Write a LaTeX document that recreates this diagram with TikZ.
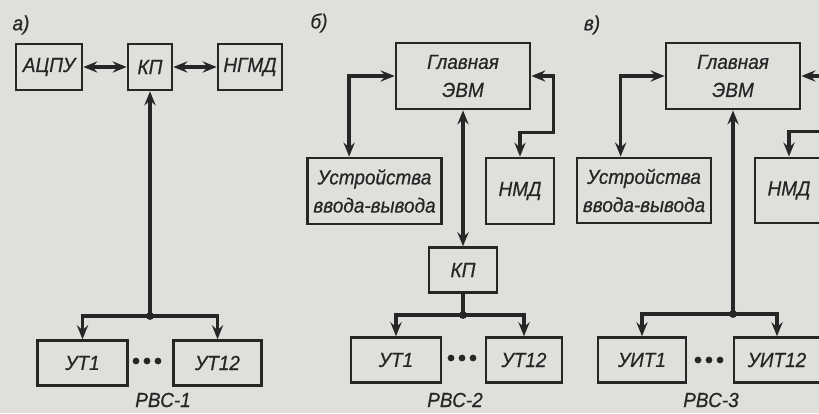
\documentclass[tikz,border=0pt]{standalone}
\usepackage{fontspec}
\setmainfont{Liberation Sans}[FakeStretch=0.93,FakeBold=0.6]
\usetikzlibrary{arrows.meta,positioning,calc}
\definecolor{paper}{RGB}{224,223,220}
\definecolor{ink}{RGB}{38,38,38}
\tikzset{
  blk/.style={draw=ink,line width=1.9pt,fill=paper,inner sep=1pt,align=center,
    text=ink,font=\fontsize{14.5}{20}\selectfont\itshape},
  lbl/.style={text=ink,font=\fontsize{14.5}{16}\selectfont\itshape},
  wireline/.style={draw=ink,line width=2.4pt,line cap=rect},
  arr/.style={wireline,-{Stealth[length=10pt,width=8pt,inset=3.5pt]}},
  darr/.style={wireline,{Stealth[length=10pt,width=8pt,inset=3.5pt]}-{Stealth[length=10pt,width=8pt,inset=3.5pt]}}
}

\begin{document}
\begin{tikzpicture}[x=0.025cm,y=-0.025cm]
  \useasboundingbox[fill=paper] (0,0) rectangle (819,413);
  \clip (0,0) rectangle (819,413);

  % a) RBC-1
  \node[lbl] (la) at (21,25) {а)};
  \node[blk,minimum width=1.65cm,minimum height=1.15cm] (acpu) at (49,67) {АЦПУ};
  \node[blk,minimum width=1.1cm,minimum height=1.15cm] (kpA) at (150,67) {КП};
  \node[blk,minimum width=1.6cm,minimum height=1.15cm] (ngmd) at (250,67) {НГМД};
  \node[blk,minimum width=2.25cm,minimum height=1.12cm] (ut1A) at (82.5,363) {УТ1};
  \node[blk,minimum width=2.2cm,minimum height=1.12cm] (ut12A) at (217.5,363) {УТ12};
  \coordinate (jA) at (150,316);
  \draw[darr] (acpu) -- (kpA);
  \draw[darr] (kpA) -- (ngmd);
  \draw[arr] (jA) -- (kpA.south);
  \draw[arr] (jA) -| (ut1A.north);
  \draw[arr] (jA) -| (ut12A.north);
  \fill[ink] (jA) circle (2.8pt);
  \foreach \x in {136,147,158} \fill[ink] (\x,361) circle (2.4pt);
  \node[lbl] (rvs1) at (163,400) {РВС-1};

  % b) RBC-2
  \node[lbl] (lb) at (319,23) {б)};
  \node[blk,minimum width=3.35cm,minimum height=1.65cm] (evmB) at (463,76) {Главная\\ЭВМ};
  \node[blk,minimum width=3.35cm,minimum height=1.65cm] (ioB) at (374.5,191) {Устройства\\ввода-вывода};
  \node[blk,minimum width=1.7cm,minimum height=1.65cm] (nmdB) at (520,191) {НМД};
  \node[blk,minimum width=1.7cm,minimum height=1.12cm] (kpB) at (463,270) {КП};
  \node[blk,minimum width=2.25cm,minimum height=1.12cm] (ut1B) at (396,360) {УТ1};
  \node[blk,minimum width=1.9cm,minimum height=1.12cm] (ut12B) at (524,360) {УТ12};
  \coordinate (jB) at (463,315);
  \draw[darr] (evmB.west) -| ($(ioB.north west)+(43,0)$);
  \draw[darr] (evmB.east) -- ++(22,0) |- ($(nmdB.north)+(0,-24)$) -- (nmdB.north);
  \draw[darr] (evmB.south) -- (kpB.north);
  \draw[wireline] (kpB.south) -- (jB);
  \draw[arr] (jB) -| (ut1B.north);
  \draw[arr] (jB) -| (ut12B.north);
  \fill[ink] (jB) circle (2.8pt);
  \foreach \x in {451,462,473} \fill[ink] (\x,358) circle (2.4pt);
  \node[lbl] (rvs2) at (455,400) {РВС-2};

  % c) RBC-3
  \node[lbl] (lc) at (592,25) {в)};
  \node[blk,minimum width=3.35cm,minimum height=1.65cm] (evmC) at (733,76) {Главная\\ЭВМ};
  \node[blk,minimum width=3.35cm,minimum height=1.63cm] (ioC) at (644,190.5) {Устройства\\ввода-вывода};
  \node[blk,minimum width=1.7cm,minimum height=1.63cm] (nmdC) at (789,190.5) {НМД};
  \node[blk,minimum width=2.2cm,minimum height=1.12cm] (uit1) at (642,360) {УИТ1};
  \node[blk,minimum width=2.15cm,minimum height=1.12cm] (uit12) at (777,360) {УИТ12};
  \coordinate (jC) at (733,314);
  \draw[darr] (evmC.west) -| ($(ioC.north west)+(45,0)$);
  \draw[darr] (evmC.east) -- ++(30,0) |- ($(nmdC.north)+(0,-25)$) -- (nmdC.north);
  \draw[arr] (jC) -- (evmC.south);
  \draw[arr] (jC) -| (uit1.north);
  \draw[arr] (jC) -| (uit12.north);
  \fill[ink] (jC) circle (2.8pt);
  \foreach \x in {698,709,720} \fill[ink] (\x,360) circle (2.4pt);
  \node[lbl] (rvs3) at (711,400) {РВС-3};
\end{tikzpicture}
\end{document}
